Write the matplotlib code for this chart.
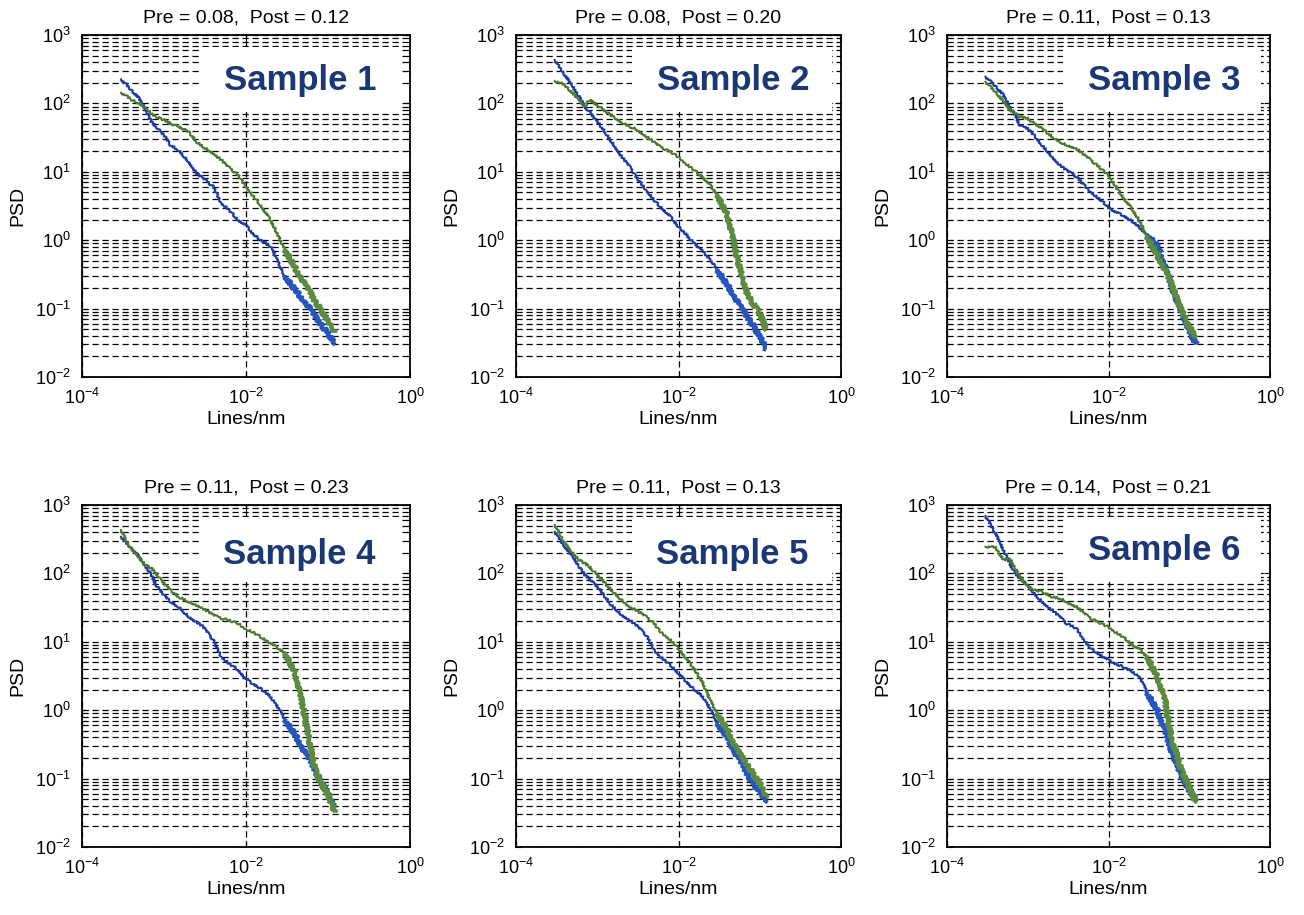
import matplotlib
matplotlib.use("Agg")
import matplotlib.pyplot as plt
from matplotlib.ticker import FixedLocator, LogLocator, NullLocator, NullFormatter, LogFormatterSciNotation
from matplotlib.patches import Rectangle

plt.rcParams['font.family'] = ['Liberation Sans', 'DejaVu Sans']

# ---------------- data ----------------
freq = [3.0e-4, 3.5e-4, 4e-4, 5e-4, 6e-4, 7e-4, 8e-4, 1e-3, 1.2e-3, 1.5e-3,
        2e-3, 2.5e-3, 3e-3, 4e-3, 5e-3, 6e-3, 8e-3, 1e-2, 1.2e-2, 1.5e-2,
        2e-2, 2.5e-2, 3e-2, 4e-2, 5e-2, 6e-2, 7e-2, 8e-2, 1e-1, 1.2e-1]

s1_pre = [224, 185, 157, 118, 80, 54, 45.6, 34.4, 24.6, 20.8, 14.0, 9.5, 8.0, 6.05, 3.45,
          2.92, 1.97, 1.66, 1.26, 1.0, 0.82, 0.458, 0.292, 0.187, 0.133, 0.101, 0.076, 0.061, 0.0434, 0.031]
s1_post = [143, 128, 114, 100, 84.5, 71.4, 63.8, 57.0, 51.0, 45.6, 38.5, 27.5, 23.2, 18.6, 14.9,
           11.9, 8.96, 6.05, 4.57, 3.26, 1.97, 1.12, 0.718, 0.387, 0.247, 0.177, 0.126, 0.101, 0.0643, 0.0459]

s2_pre = [430, 325, 260, 175, 125, 89, 75.5, 54, 40.7, 27.5, 16.6, 11.9, 8.47, 5.41, 3.86,
          3.08, 2.20, 1.57, 1.26, 0.95, 0.678, 0.513, 0.366, 0.221, 0.141, 0.101, 0.076, 0.061, 0.0388, 0.0262]
s2_post = [212, 200, 185, 140, 112, 89, 112, 95, 80, 66, 53, 46, 42, 33, 27,
           23, 19.5, 16.5, 13.5, 11, 8.3, 6.2, 4.6, 2.3, 0.74, 0.30, 0.167, 0.125, 0.085, 0.05]

s3_pre = [245, 207, 179, 132, 89, 67, 48, 43, 34, 24.6, 16.6, 12.5, 10.6, 8.5, 6.4,
          5.1, 3.86, 3.08, 2.6, 2.33, 1.86, 1.49, 1.19, 0.85, 0.41, 0.221, 0.133, 0.09, 0.0486, 0.031]
s3_post = [207, 171, 148, 106, 80, 71.4, 63.8, 60.4, 51, 43.1, 32.6, 27.5, 24.6, 22, 17.6,
           14.9, 11.2, 8.96, 6.4, 4.32, 2.76, 1.76, 1.12, 0.607, 0.366, 0.233, 0.141, 0.095, 0.054, 0.039]

s4_pre = [343, 275, 232, 175, 125, 94.6, 67.5, 48.2, 38.5, 32.6, 23.2, 19.6, 16.6, 10.5, 6.0,
          5.0, 3.9, 2.85, 2.47, 2.08, 1.57, 1.06, 0.718, 0.433, 0.261, 0.187, 0.133, 0.095, 0.061, 0.039]
s4_post = [430, 290, 232, 166, 132, 118, 100, 72, 57, 45.6, 38.5, 34.4, 30.8, 24.6, 22,
           20.8, 18.6, 15.2, 14.0, 11.9, 9.5, 8.0, 6.8, 3.4, 1.05, 0.33, 0.13, 0.09, 0.058, 0.033]

s5_pre = [406, 307, 245, 175, 125, 94.6, 84.5, 63.8, 48.2, 34.4, 24.6, 20.8, 17.6, 12.5, 7.57,
          6.05, 4.57, 3.45, 2.76, 2.08, 1.57, 1.0, 0.641, 0.409, 0.233, 0.167, 0.119, 0.090, 0.064, 0.046]
s5_post = [509, 363, 275, 196, 157, 140, 125, 94.6, 75.5, 57, 40.7, 32.6, 29.1, 23.2, 18.6,
           14.0, 10.6, 8.0, 6.05, 4.32, 2.47, 1.33, 0.897, 0.513, 0.292, 0.209, 0.158, 0.126, 0.085, 0.054]

s6_pre = [689, 509, 385, 219, 140, 100, 84.5, 67.5, 51, 38.5, 29.1, 23.2, 18.6, 15.7, 10.6,
          8.0, 6.4, 5.41, 4.83, 4.32, 3.65, 2.92, 1.8, 1.0, 0.5, 0.261, 0.16, 0.11, 0.068, 0.051]
s6_post = [245, 245, 240, 157, 166, 118, 89, 63.8, 57, 54, 45.6, 43.1, 38.5, 32.6, 26,
           22, 18.6, 16.6, 14.0, 11.9, 8.96, 7.57, 6.05, 3.08, 1.41, 0.37, 0.23, 0.13, 0.076, 0.046]

pre_series = [s1_pre, s2_pre, s3_pre, s4_pre, s5_pre, s6_pre]
post_series = [s1_post, s2_post, s3_post, s4_post, s5_post, s6_post]
titles = ["Pre = 0.08,  Post = 0.12", "Pre = 0.08,  Post = 0.20", "Pre = 0.11,  Post = 0.13",
          "Pre = 0.11,  Post = 0.23", "Pre = 0.11,  Post = 0.13", "Pre = 0.14,  Post = 0.21"]
sample_labels = ["Sample 1", "Sample 2", "Sample 3", "Sample 4", "Sample 5", "Sample 6"]
x_label = "Lines/nm"
y_label = "PSD"

# ---------------- style ----------------
BLUE = "#1c3aa8"
BLUE_TAIL = "#2755c0"
GREEN = "#4a7a2e"
GREEN_TAIL = "#5c8b40"
LABEL_COLOR = "#1b3874"

W, H = 1304, 915
lefts = [82, 516, 947]
widths = [328, 325, 323]
tops = [35, 505]
ax_h = 342
label_pos = [(0.665, 0.868), (0.668, 0.868), (0.672, 0.868),
             (0.662, 0.854), (0.666, 0.854), (0.672, 0.868)]

fig = plt.figure(figsize=(W / 100, H / 100), dpi=100)
grid_ls = (0, (5, 3))
tail_start = 22

for i in range(6):
    r, c = divmod(i, 3)
    ax = fig.add_axes([lefts[c] / W, 1 - (tops[r] + ax_h) / H, widths[c] / W, ax_h / H])
    ax.set_xscale('log')
    ax.set_yscale('log')
    ax.set_xlim(1e-4, 1)
    ax.set_ylim(1e-2, 1e3)
    ax.xaxis.set_major_locator(FixedLocator([1e-4, 1e-2, 1]))
    ax.xaxis.set_minor_locator(NullLocator())
    ax.xaxis.set_major_formatter(LogFormatterSciNotation())
    ax.yaxis.set_major_locator(LogLocator(base=10, numticks=12))
    ax.yaxis.set_minor_locator(LogLocator(base=10, subs=range(2, 10), numticks=12))
    ax.yaxis.set_minor_formatter(NullFormatter())
    ax.grid(True, which='major', axis='both', linestyle=grid_ls, color='black', linewidth=0.9)
    ax.grid(True, which='minor', axis='y', linestyle=grid_ls, color='black', linewidth=0.9)
    ax.tick_params(which='both', direction='in', top=True, right=True, labelsize=13)
    ax.tick_params(which='major', length=4, width=0.8)
    ax.tick_params(which='minor', length=2, width=0.6)
    ax.tick_params(axis='x', pad=8)
    ax.tick_params(axis='y', pad=8)
    for sp in ax.spines.values():
        sp.set_linewidth(1.3)

    # white label box hiding the grid
    ax.add_patch(Rectangle((0.358, 0.775), 0.615, 0.19, transform=ax.transAxes,
                           facecolor='white', edgecolor='none', zorder=2.2))

    pre = pre_series[i]
    post = post_series[i]
    l1, = ax.plot(freq, pre, color=BLUE, lw=1.5, zorder=3)
    l1.set_sketch_params(scale=1.0, length=3, randomness=3)
    t1, = ax.plot(freq[tail_start:], pre[tail_start:], color=BLUE_TAIL, lw=2.6, zorder=3)
    t1.set_sketch_params(scale=2.0, length=2, randomness=3)
    l2, = ax.plot(freq, post, color=GREEN, lw=1.5, zorder=3.1)
    l2.set_sketch_params(scale=1.0, length=3, randomness=3)
    t2, = ax.plot(freq[tail_start:], post[tail_start:], color=GREEN_TAIL, lw=2.6, zorder=3.1)
    t2.set_sketch_params(scale=2.0, length=2, randomness=3)

    ax.text(label_pos[i][0], label_pos[i][1], sample_labels[i], transform=ax.transAxes,
            ha='center', va='center', fontsize=25, fontweight='bold', color=LABEL_COLOR, zorder=5)

    ax.set_title(titles[i], fontsize=14, pad=9)
    ax.set_xlabel(x_label, fontsize=14, labelpad=2)
    ax.set_ylabel(y_label, fontsize=14, labelpad=6)

fig.savefig("out.png", dpi=100)
